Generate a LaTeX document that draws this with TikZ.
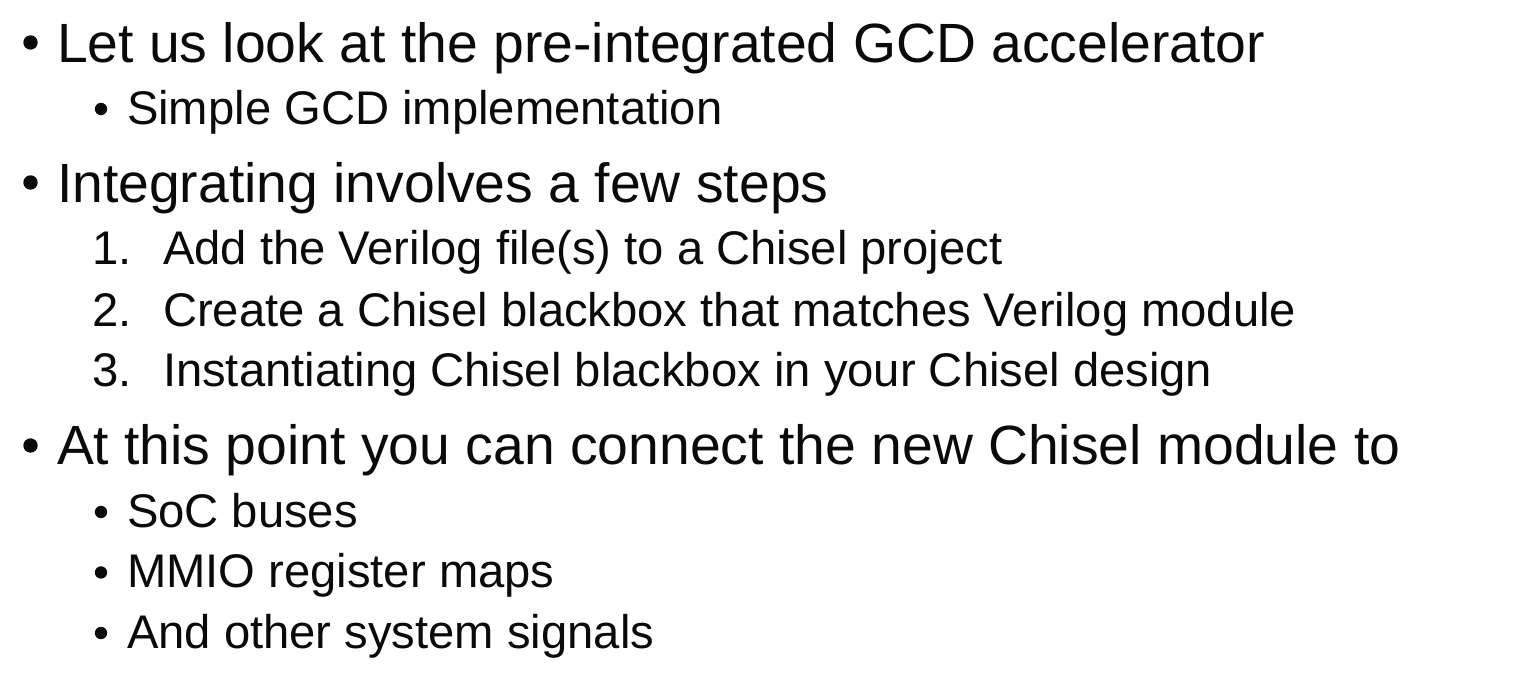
\documentclass[tikz,border=0pt]{standalone}
\usepackage{fontspec}
\setmainfont{Liberation Sans}
\usepackage{tikz}
\definecolor{slidetext}{rgb}{0.04,0.04,0.04}

\begin{document}
\begin{tikzpicture}[line cap=round,line join=round,x=0.5pt,y=-0.5pt,
    mainitem/.style={anchor=base west,inner sep=0pt,outer sep=0pt,text=slidetext,font=\fontsize{27.65}{33}\selectfont},
    subitem/.style={anchor=base west,inner sep=0pt,outer sep=0pt,text=slidetext,font=\fontsize{23.6}{28}\selectfont},
    maindot/.style={circle,fill=slidetext,inner sep=0pt,outer sep=0pt,minimum size=7.2pt},
    subdot/.style={circle,fill=slidetext,inner sep=0pt,outer sep=0pt,minimum size=6.2pt}]

    \useasboundingbox (0,0) rectangle (1516,694);

    % first point
    \node[maindot] (dotA) at (30.5,42.5) {};
    \node[mainitem] (lookA) at (57,63) {Let us look at the pre-integrated GCD accelerator};
    \node[subdot] (dotAa) at (101,109) {};
    \node[subitem] (simpleA) at (127,125) {Simple GCD implementation};

    % second point
    \node[maindot] (dotB) at (30.5,182.5) {};
    \node[mainitem] (stepsB) at (57,203) {Integrating involves a few steps};
    \node[subitem] (numBa) at (92,265) {1.};
    \node[subitem] (stepBa) at (163,265) {Add the Verilog file(s) to a Chisel project};
    \node[subitem] (numBb) at (92,327) {2.};
    \node[subitem] (stepBb) at (163,327) {Create a Chisel blackbox that matches Verilog module};
    \node[subitem] (numBc) at (92,387) {3.};
    \node[subitem] (stepBc) at (163,387) {Instantiating Chisel blackbox in your Chisel design};

    % third point
    \node[maindot] (dotC) at (30.5,445.5) {};
    \node[mainitem] (connectC) at (57,465) {At this point you can connect the new Chisel module to};
    \node[subdot] (dotCa) at (101,512) {};
    \node[subitem] (busC) at (127,528) {SoC buses};
    \node[subdot] (dotCb) at (101,572.5) {};
    \node[subitem] (mmioC) at (127,588) {MMIO register maps};
    \node[subdot] (dotCc) at (101,633) {};
    \node[subitem] (signalC) at (127,649) {And other system signals};
\end{tikzpicture}
\end{document}
